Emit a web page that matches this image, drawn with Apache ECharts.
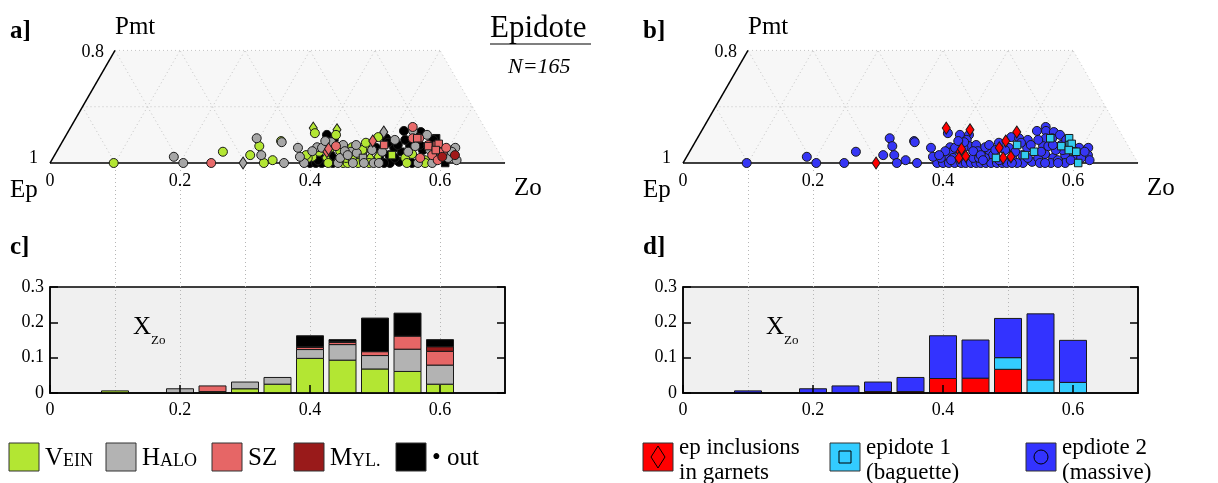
<!DOCTYPE html>
<html><head><meta charset="utf-8">
<script src="https://cdn.jsdelivr.net/npm/echarts@6/dist/echarts.min.js"></script>
<style>html,body{margin:0;padding:0;background:#fff}#c{width:1218px;height:483px}</style>
</head><body><div id="c"></div>
<script>
// ---------- DATA ----------
const binCenters   = [0.1, 0.2, 0.25, 0.3, 0.35, 0.4, 0.45, 0.5, 0.55, 0.6];
const veinFrac     = [0.006, 0, 0.004, 0.012, 0.025, 0.098, 0.093, 0.068, 0.061, 0.025];
const haloFrac     = [0, 0.012, 0, 0.019, 0.019, 0.025, 0.044, 0.038, 0.063, 0.054];
const szFrac       = [0, 0, 0.016, 0, 0, 0.006, 0.006, 0.011, 0.037, 0.039];
const mylFrac      = [0, 0, 0, 0, 0, 0.002, 0.002, 0, 0, 0.013];
const outFrac      = [0, 0, 0, 0, 0, 0.031, 0.006, 0.095, 0.065, 0.020];
const garnetFrac   = [0, 0, 0, 0.004, 0.004, 0.041, 0.042, 0.067, 0, 0];
const baguetteFrac = [0, 0, 0, 0, 0, 0, 0, 0.033, 0.037, 0.030];
const massiveFrac  = [0.006, 0.012, 0.020, 0.027, 0.040, 0.121, 0.108, 0.111, 0.187, 0.119];
const histYTicks   = [0, 0.1, 0.2, 0.3];
const ternGridSteps = [0.1, 0.2, 0.3, 0.4, 0.5, 0.6];

// analyses: [X_Zo, X_Pmt, lithology, epidote type]
const points = [
 [0.098,0,'vein','massive'],[0.185,0.011,'halo','massive'],[0.205,0,'halo','massive'],[0.248,0,'sz','massive'],
 [0.256,0.020,'vein','massive'],[0.297,0,'halo','garnet'],[0.301,0.014,'vein','massive'],[0.296,0.044,'halo','massive'],
 [0.307,0.030,'vein','massive'],[0.318,0.014,'halo','massive'],[0.329,0,'vein','massive'],[0.340,0.005,'vein','massive'],
 [0.360,0,'halo','massive'],[0.336,0.039,'vein','massive'],[0.338,0.037,'halo','massive'],[0.368,0.027,'halo','massive'],
 [0.391,0,'halo','massive'],[0.379,0.011,'halo','massive'],
 [0.374,0.062,'vein','garnet'],[0.381,0.053,'vein','massive'],[0.401,0.050,'out','massive'],[0.412,0.059,'vein','garnet'],
 [0.415,0.050,'vein','massive'],[0.416,0.041,'out','massive'],[0.425,0.030,'sz','massive'],[0.397,0.028,'halo','massive'],
 [0.398,0.011,'vein','massive'],[0.404,0.020,'vein','massive'],[0.416,0.020,'sz','garnet'],[0.416,0.025,'sz','garnet'],
 [0.420,0.009,'vein','garnet'],[0.418,0.027,'vein','massive'],[0.435,0.032,'halo','massive'],[0.453,0.020,'halo','massive'],
 [0.463,0.018,'halo','massive'],[0.473,0.027,'vein','garnet'],[0.477,0.009,'halo','baguette'],[0.470,0.014,'vein','massive'],
 [0.488,0.009,'vein','garnet'],[0.499,0.011,'vein','garnet'],
 [0.400,0,'out','massive'],[0.409,0,'out','massive'],[0.418,0,'out','massive'],[0.428,0,'vein','massive'],
 [0.435,0,'out','massive'],[0.443,0,'halo','massive'],[0.451,0,'vein','massive'],[0.458,0,'vein','massive'],
 [0.466,0,'halo','massive'],[0.474,0,'vein','massive'],[0.483,0,'halo','massive'],[0.491,0,'vein','massive'],
 [0.498,0,'halo','massive'],[0.392,0.009,'vein','massive'],[0.411,0.009,'out','massive'],[0.442,0.009,'halo','massive'],
 [0.451,0.009,'vein','massive'],[0.460,0.009,'vein','massive'],[0.405,0.027,'halo','massive'],[0.443,0.021,'halo','massive'],
 [0.451,0.028,'vein','massive'],[0.436,0.021,'vein','massive'],[0.393,0.021,'halo','massive'],[0.387,0.014,'vein','massive'],
 [0.414,0.037,'halo','massive'],[0.404,0.039,'halo','massive'],[0.451,0.014,'halo','massive'],[0.429,0.012,'out','garnet'],
 [0.410,0.005,'out','massive'],[0.455,0.032,'halo','massive'],[0.469,0.023,'vein','massive'],[0.459,0.005,'out','massive'],
 [0.484,0.005,'out','massive'],
 [0.477,0.039,'sz','garnet'],[0.488,0.027,'out','massive'],[0.482,0.046,'vein','massive'],[0.486,0.055,'halo','garnet'],
 [0.498,0.032,'sz','baguette'],[0.495,0.044,'out','massive'],[0.516,0.027,'out','massive'],[0.515,0.014,'out','massive'],
 [0.510,0.041,'halo','massive'],[0.530,0.020,'out','baguette'],[0.536,0.002,'out','massive'],[0.502,0.009,'out','massive'],
 [0.523,0,'out','massive'],[0.514,0,'out','massive'],[0.506,0,'halo','massive'],[0.519,0.014,'vein','baguette'],
 [0.484,0.023,'halo','massive'],[0.501,0.020,'halo','massive'],[0.468,0.036,'vein','massive'],[0.502,0.036,'out','massive'],
 [0.519,0.032,'out','massive'],[0.526,0.009,'out','massive'],[0.542,0.009,'vein','massive'],
 [0.516,0.057,'out','massive'],[0.526,0.064,'sz','massive'],[0.530,0.057,'halo','massive'],[0.543,0.055,'out','massive'],
 [0.536,0.044,'sz','massive'],[0.546,0.044,'sz','massive'],[0.555,0.050,'halo','massive'],[0.572,0.044,'out','baguette'],
 [0.566,0.032,'sz','massive'],[0.579,0.032,'sz','baguette'],[0.539,0.030,'out','massive'],[0.549,0.016,'vein','massive'],
 [0.565,0.009,'sz','massive'],[0.581,0.014,'sz','massive'],[0.590,0.021,'sz','baguette'],[0.595,0.020,'sz','baguette'],
 [0.598,0.011,'myl','massive'],[0.610,0.027,'halo','massive'],[0.616,0.014,'myl','massive'],[0.623,0.005,'halo','massive'],
 [0.608,0,'out','baguette'],[0.588,0,'halo','massive'],[0.566,0,'halo','massive'],[0.574,0.005,'vein','massive'],
 [0.549,0,'vein','massive'],[0.573,0.023,'halo','massive'],[0.562,0.023,'out','massive'],[0.543,0.044,'sz','baguette'],
 [0.567,0.030,'sz','baguette'],[0.581,0.034,'sz','baguette'],[0.582,0.023,'sz','baguette'],[0.526,0.041,'out','massive'],
 [0.541,0.020,'halo','massive'],[0.547,0.030,'halo','massive'],[0.608,0.009,'halo','massive'],[0.557,0,'out','massive'],
 [0.577,0,'vein','massive'],[0.594,0.005,'sz','massive'],[0.569,0.041,'out','massive'],[0.553,0.032,'out','massive'],
 [0.596,0.027,'sz','massive'],[0.608,0.020,'halo','massive']
];

// ---------- STYLE ----------
const SERIF = "'Liberation Serif', 'DejaVu Serif', serif";
const LITHO = [
  {key:'vein', hist:'#b3e633', pt:'#b3e633', data: veinFrac},
  {key:'halo', hist:'#b3b3b3', pt:'#a6a6a6', data: haloFrac},
  {key:'sz',   hist:'#e66666', pt:'#e86a6a', data: szFrac},
  {key:'myl',  hist:'#991a1a', pt:'#a01818', data: mylFrac},
  {key:'out',  hist:'#000000', pt:'#000000', data: outFrac}
];
const SCATTER_ORDER_A = ['out','vein','halo','sz','myl'];
const TYPES = [
  {key:'massive',  hist:'#3333ff', pt:'#3636f5', data: massiveFrac},
  {key:'garnet',   hist:'#ff0000', pt:'#ff0000', data: garnetFrac},
  {key:'baguette', hist:'#33ccff', pt:'#33ccee', data: baguetteFrac}
];
const HIST_STACK_B = ['garnet','baguette','massive'];
const SYM = {massive:'circle', garnet:'diamond', baguette:'rect'};
const SYMSIZE = {massive:9, garnet:[8,12], baguette:7.5};

const SQ3 = Math.sqrt(3);
const TERN_ZO_MAX = 0.7, TERN_PMT_MAX = 0.2;
const toXY = (zo, pmt) => [zo + pmt / 2, pmt * SQ3 / 2];
const yMaxT = TERN_PMT_MAX * SQ3 / 2;
const PX = 650; // px per unit
const BASE_Y = 163;
const PANEL_X = [50, 683];
const BAR_W = 27;

const grids = [], xAxes = [], yAxes = [], series = [];
PANEL_X.forEach((x0, p) => {
  grids.push({left:x0, top:BASE_Y - PX*yMaxT, width:PX*TERN_ZO_MAX, height:PX*yMaxT, outerBoundsMode:'none', containLabel:false});
  grids.push({left:x0, top:287, width:PX*TERN_ZO_MAX, height:106, show:true, backgroundColor:'#f0f0f0', borderColor:'#000', borderWidth:1.5, outerBoundsMode:'none', containLabel:false, z:0});
  grids.push({left:x0, top:170, width:PX*TERN_ZO_MAX, height:223, outerBoundsMode:'none', containLabel:false});
  const g = 3*p;
  const lab = {color:'#000', fontFamily:SERIF, fontSize:18};
  const fmt = v => v === 0 ? '0' : v.toFixed(1);
  xAxes.push({gridIndex:g, type:'value', min:0, max:TERN_ZO_MAX, interval:0.2, z:4,
    axisLine:{show:false}, axisTick:{show:false}, splitLine:{show:false},
    axisLabel:Object.assign({margin:9, formatter:fmt, showMaxLabel:false, backgroundColor:'#fff', padding:[0,1]}, lab)});
  yAxes.push({gridIndex:g, type:'value', min:0, max:yMaxT, show:false});
  xAxes.push({gridIndex:g+1, type:'value', min:0, max:TERN_ZO_MAX, interval:0.2, z:4,
    axisLine:{show:true, lineStyle:{color:'#000', width:1.5}}, axisTick:{show:true, inside:true, length:8, lineStyle:{color:'#000', width:1.5}},
    splitLine:{show:false}, axisLabel:Object.assign({margin:8, formatter:fmt, showMaxLabel:false}, lab)});
  yAxes.push({gridIndex:g+1, type:'value', min:histYTicks[0], max:histYTicks[histYTicks.length-1], interval:0.1, position:'left', z:4,
    axisLine:{show:true, lineStyle:{color:'#000', width:1.5}}, axisTick:{show:true, inside:true, length:8, lineStyle:{color:'#000', width:1.5}},
    splitLine:{show:false}, axisLabel:Object.assign({margin:6, formatter:fmt}, lab)});
  yAxes.push({gridIndex:g+1, type:'value', min:histYTicks[0], max:histYTicks[histYTicks.length-1], interval:0.1, position:'right', z:4,
    axisLine:{show:true, lineStyle:{color:'#000', width:1.5}}, axisTick:{show:true, inside:true, length:8, lineStyle:{color:'#000', width:1.5}},
    splitLine:{show:false}, axisLabel:{show:false}});
  xAxes.push({gridIndex:g+2, type:'value', min:0, max:TERN_ZO_MAX, interval:0.1, z:1,
    axisLine:{show:false}, axisTick:{show:false}, axisLabel:{show:false},
    splitLine:{show:true, showMinLine:false, showMaxLine:false, lineStyle:{color:'#b5b5b5', width:1, type:[1,3]}}});
  yAxes.push({gridIndex:g+2, type:'value', min:0, max:1, show:false});
});
const TX = p => 3*p, TY = p => 4*p, HX = p => 3*p+1, HY = p => 4*p+1;

// ternary frame
function frameRender(params, api) {
  const P = (zo, pmt) => api.coord(toXY(zo, pmt));
  const dot = {stroke:'#c4c4c4', lineWidth:1, lineDash:[1,3], fill:null};
  const zoTop = TERN_ZO_MAX - TERN_PMT_MAX;
  const ch = [];
  ch.push({type:'polygon', shape:{points:[P(0,0), P(TERN_ZO_MAX,0), P(zoTop,TERN_PMT_MAX), P(0,TERN_PMT_MAX)]}, style:{fill:'#f7f7f7'}});
  const line = (a, b, st) => ch.push({type:'line', shape:{x1:a[0], y1:a[1], x2:b[0], y2:b[1]}, style:st});
  ternGridSteps.forEach(z => {
    line(P(z,0), P(z, Math.min(TERN_PMT_MAX, TERN_ZO_MAX - z)), dot);
    const pe = Math.min(TERN_PMT_MAX, z);
    line(P(z,0), P(z - pe, pe), dot);
  });
  line(P(0,0.1), P(TERN_ZO_MAX - 0.1, 0.1), dot);
  line(P(0,TERN_PMT_MAX), P(zoTop,TERN_PMT_MAX), dot);
  line(P(TERN_ZO_MAX,0), P(zoTop,TERN_PMT_MAX), dot);
  const solid = {stroke:'#000', lineWidth:1.5};
  line(P(0,0), P(TERN_ZO_MAX,0), solid);
  line(P(0,0), P(0,TERN_PMT_MAX), solid);
  return {type:'group', children:ch};
}
[0,1].forEach(p => series.push({type:'custom', xAxisIndex:TX(p), yAxisIndex:TY(p), data:[[0,0]], renderItem:frameRender, silent:true, z:1, clip:false}));

// scatter
SCATTER_ORDER_A.forEach(k => { const L = LITHO.find(l => l.key === k);
  series.push({type:'scatter', name:L.key, xAxisIndex:TX(0), yAxisIndex:TY(0), clip:false, z:3,
  itemStyle:{color:L.pt, borderColor:'#1a1a1a', borderWidth:1, opacity:1},
  data: points.filter(q => q[2] === L.key).map(q => ({value:toXY(q[0], q[1]), symbol:SYM[q[3]], symbolSize:SYMSIZE[q[3]]}))}); });
TYPES.forEach(T => series.push({type:'scatter', name:T.key, xAxisIndex:TX(1), yAxisIndex:TY(1), clip:false, z:3,
  itemStyle:{color:T.pt, borderColor:'#1a1a1a', borderWidth:1, opacity:1},
  data: points.filter(q => q[3] === T.key).map(q => ({value:toXY(q[0], q[1]), symbol:SYM[q[3]], symbolSize:SYMSIZE[q[3]]}))}));

// stacked histograms (custom series: each segment from its stack base)
function addStack(layers, p) {
  const base = binCenters.map(() => 0);
  layers.forEach(L => {
    const data = [];
    binCenters.forEach((c, i) => { if (L.data[i] > 0) data.push([c, L.data[i], base[i]]); base[i] += L.data[i]; });
    series.push({type:'custom', name:'h_'+L.key, xAxisIndex:HX(p), yAxisIndex:HY(p), z:2, clip:false,
      encode:{x:0, y:1},
      data,
      renderItem: (params, api) => {
        const c = api.value(0), v = api.value(1), b = api.value(2);
        const p0 = api.coord([c, b]), p1 = api.coord([c, b + v]);
        return {type:'rect', shape:{x:p0[0] - BAR_W/2, y:p1[1], width:BAR_W, height:p0[1] - p1[1]},
          style:{fill:L.hist, stroke:'#1a1a1a', lineWidth:1}};
      }});
  });
}
addStack(LITHO, 0);
addStack(HIST_STACK_B.map(k => TYPES.find(t => t.key === k)), 1);

// ---------- TEXT / LEGENDS ----------
const G = [];
const txt = (x, y, text, size, opt) => G.push({type:'text', x, y, z:10, style:{text, fill:'#000',
  font:`${(opt&&opt.style)||'normal'} ${(opt&&opt.weight)||'normal'} ${size}px ${SERIF}`,
  textAlign:(opt&&opt.align)||'left', align:(opt&&opt.align)||'left', textVerticalAlign:'middle', verticalAlign:'middle'}});
['a]','b]'].forEach((s, p) => {
  const o = p ? 633 : 0;
  txt(10+o, 32, s, 25, {weight:'bold'});
  txt(115+o, 27, 'Pmt', 25);
  txt(104+o, 52, '0.8', 18, {align:'right'});
  txt(38+o, 158, '1', 18, {align:'right'});
  txt(10+o, 190, 'Ep', 25);
  txt(514+o, 188, 'Zo', 25);
  txt(10+o, 248, p ? 'd]' : 'c]', 25, {weight:'bold'});
  txt(133+o, 327, 'X', 25);
  txt(151+o, 341, 'Zo', 13);
});
txt(490, 29, 'Epidote', 31);
G.push({type:'line', z:10, shape:{x1:490, y1:44, x2:591, y2:44}, style:{stroke:'#000', lineWidth:1.2}});
txt(508, 67, 'N=165', 22, {style:'italic'});

// legend c (small caps emulated: capital + smaller capitals on same baseline)
const legC = [
  {x:9,   col:'#b3e633', big:'V', bigW:18, small:'EIN'},
  {x:106, col:'#b3b3b3', big:'H', bigW:18, small:'ALO'},
  {x:212, col:'#e66666', big:'SZ', bigW:0, small:''},
  {x:294, col:'#991a1a', big:'M', bigW:22, small:'YL.'},
  {x:396, col:'#000000', big:'• out', bigW:0, small:''}
];
const LEG_BASE = 467;
legC.forEach(l => {
  G.push({type:'rect', z:10, shape:{x:l.x, y:443, width:30, height:28}, style:{fill:l.col, stroke:'#333', lineWidth:1}});
  txt(l.x+36, LEG_BASE - 0.33*25, l.big, 25);
  if (l.small) txt(l.x+36+l.bigW, LEG_BASE - 0.33*18, l.small, 18);
});
// legend d
const legD = [
  {x:643,  col:'#ff0000', l1:'ep inclusions', l2:'in garnets', sym:'diamond'},
  {x:830,  col:'#33ccff', l1:'epidote 1', l2:'(baguette)', sym:'square'},
  {x:1026, col:'#3333ff', l1:'epdiote 2', l2:'(massive)', sym:'circle'}
];
legD.forEach(l => {
  G.push({type:'rect', z:10, shape:{x:l.x, y:443, width:30, height:28}, style:{fill:l.col, stroke:'#333', lineWidth:1}});
  const cx = l.x + 15, cy = 457;
  if (l.sym === 'diamond') G.push({type:'polygon', z:11, shape:{points:[[cx,cy-11],[cx+7,cy],[cx,cy+11],[cx-7,cy]]}, style:{fill:null, stroke:'#000', lineWidth:1}});
  if (l.sym === 'square') G.push({type:'rect', z:11, shape:{x:cx-6, y:cy-6, width:12, height:12}, style:{fill:null, stroke:'#000', lineWidth:1}});
  if (l.sym === 'circle') G.push({type:'circle', z:11, shape:{cx, cy, r:7}, style:{fill:null, stroke:'#000', lineWidth:1}});
  txt(l.x+36, 448, l.l1, 23);
  txt(l.x+36, 473, l.l2, 23);
});

const chart = echarts.init(document.getElementById('c'), null, {renderer:'canvas'});
chart.setOption({
  animation:false, backgroundColor:'#fff',
  grid:grids, xAxis:xAxes, yAxis:yAxes, series, graphic:{elements:G}
});
</script></body></html>
